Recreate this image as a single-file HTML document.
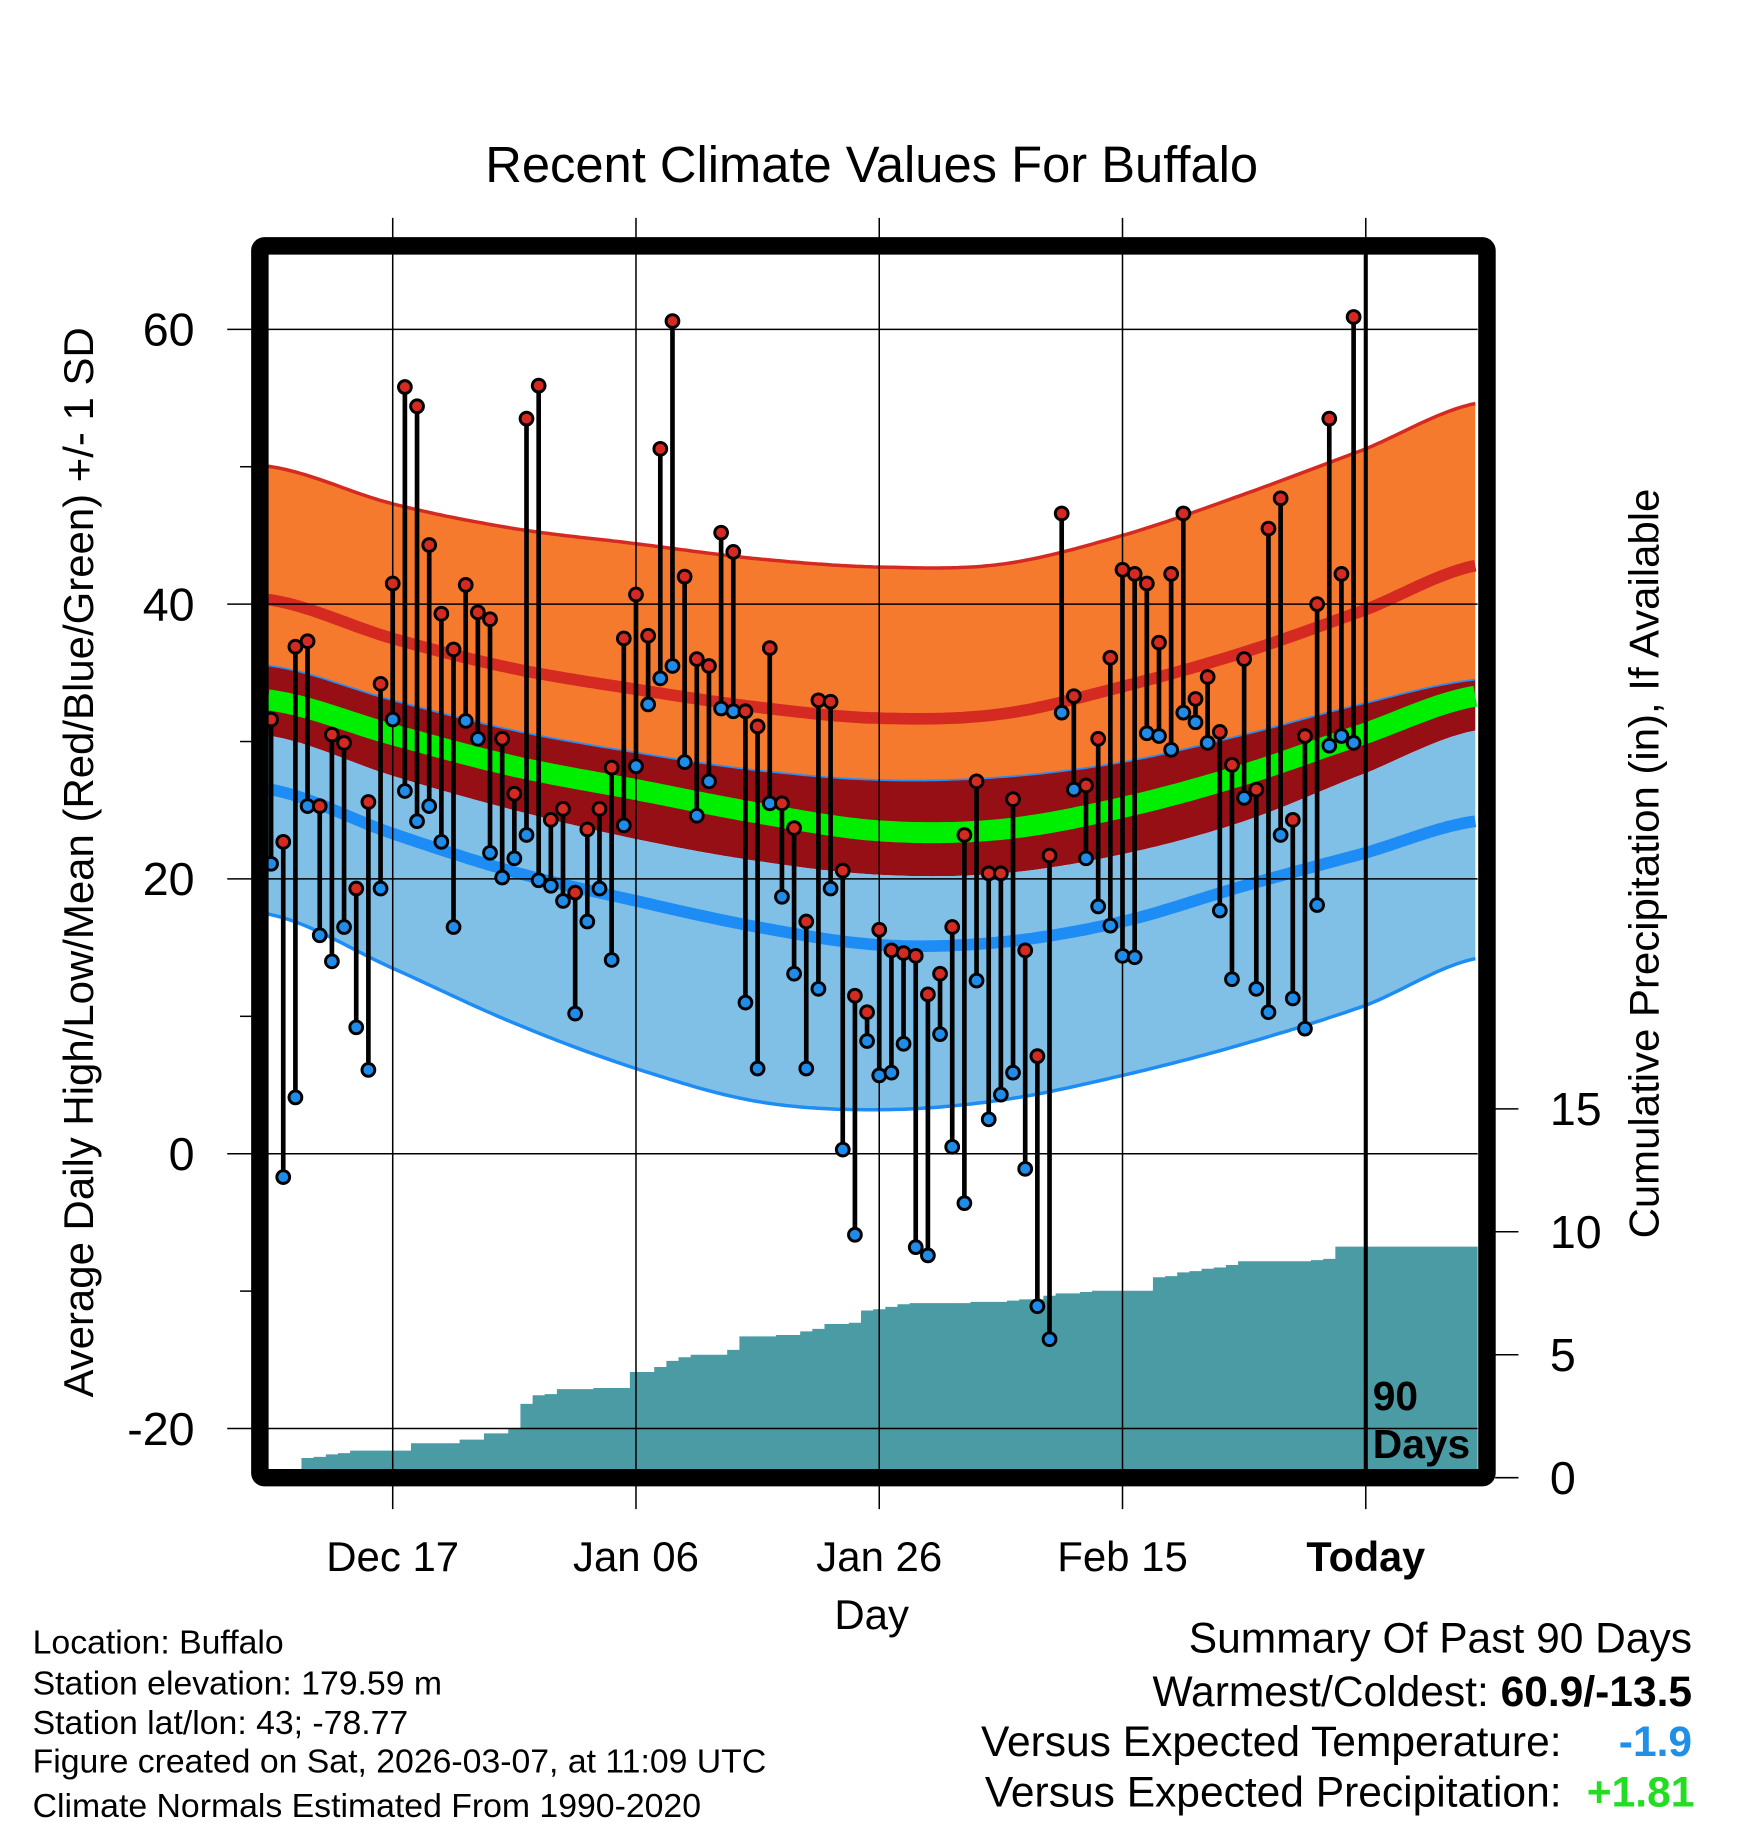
<!DOCTYPE html>
<html><head><meta charset="utf-8"><style>
html,body{margin:0;padding:0;background:#fff}
svg{display:block;font-family:"Liberation Sans",Arial,sans-serif}
</style></head><body>
<svg id="chart" width="1748" height="1828" viewBox="0 0 1500 1568.6" preserveAspectRatio="none" xmlns="http://www.w3.org/2000/svg">
<text x="748" y="156" font-size="43.5" text-anchor="middle">Recent Climate Values For Buffalo</text>
<g id="bands"></g>
<g id="precip"></g>
<g id="grid"></g>
<g id="series"></g>
<g id="frame"></g>
<text transform="translate(80,740) rotate(-90)" font-size="36" text-anchor="middle">Average Daily High/Low/Mean (Red/Blue/Green) +/- 1 SD</text>
<text transform="translate(1423,741) rotate(-90)" font-size="36" text-anchor="middle">Cumulative Precipitation (in), If Available</text>
<text x="748" y="1398" font-size="36" text-anchor="middle">Day</text>
<g font-size="29">
<text x="28" y="1419">Location: Buffalo</text>
<text x="28" y="1454">Station elevation: 179.59 m</text>
<text x="28" y="1488">Station lat/lon: 43; -78.77</text>
<text x="28" y="1521">Figure created on Sat, 2026-03-07, at 11:09 UTC</text>
<text x="28" y="1559">Climate Normals Estimated From 1990-2020</text>
</g>
<g font-size="36.5" text-anchor="end">
<text x="1452" y="1418">Summary Of Past 90 Days</text>
<text x="1452" y="1464">Warmest/Coldest: <tspan font-weight="bold">60.9/-13.5</tspan></text>
<text x="1340" y="1507">Versus Expected Temperature:</text>
<text x="1452" y="1507" font-weight="bold" fill="#1f8fe8">-1.9</text>
<text x="1340" y="1550">Versus Expected Precipitation:</text>
<text x="1454" y="1550" font-weight="bold" fill="#22dd22">+1.81</text>
</g>
</svg>
<script>
const normDays=[-90,-80,-70,-60,-50,-40,-30,-20,-10,0,9];
const highPlusSD=[50,47.3,45.5,44.4,43.3,42.7,42.9,45,48,51.3,54.6];
const normHigh=[40.3,37.5,35.3,33.8,32.5,31.7,32.0,34.0,36.5,39.6,42.8];
const highMinusSD=[35.5,33.0,30.8,29.2,27.9,27.2,27.4,28.5,30.5,32.8,34.5];
const normMean=[33,30.5,28.2,26.5,24.8,23.5,23.6,25.2,27.6,30.6,33.3];
const lowPlusSD=[30.4,27.5,25.0,22.9,21.3,20.3,20.4,21.8,24.2,27.7,30.8];
const normLow=[26.5,23.3,20.5,18.4,16.5,15.2,15.4,16.9,19.5,21.9,24.2];
const lowMinusSD=[17.4,13.5,9.5,6.2,3.8,3.2,3.9,5.7,8.0,10.8,14.2];
const highs=[31.6,22.7,36.9,37.3,25.3,30.5,29.9,19.3,25.6,34.2,41.5,55.8,54.4,44.3,39.3,36.7,41.4,39.4,38.9,30.2,26.2,53.5,55.9,24.3,25.1,19,23.6,25.1,28.1,37.5,40.7,37.7,51.3,60.6,42,36,35.5,45.2,43.8,32.2,31.1,36.8,25.5,23.7,16.9,33,32.9,20.6,11.5,10.3,16.3,14.8,14.6,14.4,11.6,13.1,16.5,23.2,27.1,20.4,20.4,25.8,14.8,7.1,21.7,46.6,33.3,26.8,30.2,36.1,42.5,42.2,41.5,37.2,42.2,46.6,33.1,34.7,30.7,28.3,36,26.5,45.5,47.7,24.3,30.4,40,53.5,42.2,60.9];
const lows=[21.1,-1.7,4.1,25.3,15.9,14,16.5,9.2,6.1,19.3,31.6,26.4,24.2,25.3,22.7,16.5,31.5,30.2,21.9,20.1,21.5,23.2,19.9,19.5,18.4,10.2,16.9,19.3,14.1,23.9,28.2,32.7,34.6,35.5,28.5,24.6,27.1,32.4,32.2,11,6.2,25.5,18.7,13.1,6.2,12,19.3,0.3,-5.9,8.2,5.7,5.9,8,-6.8,-7.4,8.7,0.5,-3.6,12.6,2.5,4.3,5.9,-1.1,-11.1,-13.5,32.1,26.5,21.5,18,16.6,14.4,14.3,30.6,30.4,29.4,32.1,31.4,29.9,17.7,12.7,25.9,12,10.3,23.2,11.3,9.1,18.1,29.7,30.4,29.9];
const precip=[0,0,0,0.8,0.85,0.95,1.0,1.1,1.1,1.1,1.1,1.1,1.4,1.4,1.4,1.4,1.55,1.55,1.8,1.8,2.0,3.0,3.35,3.4,3.6,3.6,3.6,3.65,3.65,3.65,4.3,4.3,4.5,4.75,4.9,5.0,5.0,5.0,5.2,5.75,5.75,5.75,5.8,5.8,5.95,6.05,6.25,6.25,6.3,6.8,6.85,6.95,7.05,7.1,7.1,7.1,7.1,7.1,7.15,7.15,7.15,7.2,7.25,7.25,7.4,7.5,7.5,7.55,7.6,7.6,7.6,7.6,7.6,8.15,8.2,8.35,8.4,8.5,8.55,8.65,8.8,8.8,8.8,8.8,8.8,8.8,8.85,8.9,9.4,9.4];
const xTickLabels=["Dec 17","Jan 06","Jan 26","Feb 15","Today"];
const xTickDays=[-80,-60,-40,-20,0];
const yTicks=[60,40,20,0,-20];
const yMinor=[50,30,10,-10];
const y2Ticks=[0,5,10,15];

const NS="http://www.w3.org/2000/svg";
const L=230,R=1268,T=215,B=1260;
const xDay=d=>1172+d*10.4375;
const yT=v=>990-v*11.79;
const yP=v=>1268-v*21.1;
function mk(tag,attrs,parent){const e=document.createElementNS(NS,tag);for(const k in attrs)e.setAttribute(k,attrs[k]);parent.appendChild(e);return e;}
const bands=document.getElementById('bands'),grid=document.getElementById('grid'),series=document.getElementById('series'),frame=document.getElementById('frame'),pg=document.getElementById('precip'),svg=document.getElementById('chart');
function crVal(arr,d){const n=normDays.length;let k=0;while(k<n-2&&d>normDays[k+1])k++;
const t=(d-normDays[k])/(normDays[k+1]-normDays[k]);
const p0=arr[Math.max(0,k-1)],p1=arr[k],p2=arr[k+1],p3=arr[Math.min(n-1,k+2)];
const t2=t*t,t3=t2*t;
return 0.5*((2*p1)+(-p0+p2)*t+(2*p0-5*p1+4*p2-p3)*t2+(-p0+3*p1-3*p2+p3)*t3);}
function curvePts(arr){const pts=[];for(let x=L;x<=R+0.1;x+=4){const d=(x-1172)/10.4375;pts.push([x,yT(crVal(arr,d))]);}return pts;}
function line(pts){return pts.map((p,i)=>(i?'L':'M')+p[0].toFixed(1)+','+p[1].toFixed(1)).join(' ');}
function band(a,b,fill,name){const pa=curvePts(a),pb=curvePts(b).reverse();const e=mk('path',{d:line(pa)+' '+line(pb).replace('M','L')+' Z',fill:fill},bands);

}
band(highPlusSD,highMinusSD,'#f57a2e','high-sd-band');
band(highMinusSD,lowPlusSD,'#960f14','mean-band');
band(lowPlusSD,lowMinusSD,'#80c0e6','low-sd-band');
function cl(arr,col,w,name){const e=mk('path',{d:line(curvePts(arr)),fill:'none',stroke:col,'stroke-width':w},bands);

}
cl(highPlusSD,'#d42a22',3,'high-plus-sd-line');
cl(normHigh,'#d42a22',10,'normal-high-line');
cl(highMinusSD,'#2a8ef0',1.5,'high-minus-sd-line');
cl(normMean,'#00ee00',18,'normal-mean-line');
cl(normLow,'#1e8cf5',10,'normal-low-line');
cl(lowMinusSD,'#1e8cf5',3,'low-minus-sd-line');

let d='M'+xDay(-90)+','+yP(0);
precip.forEach((v,i)=>{const xc=xDay(-90+i);d+=' L'+(xc-5.2).toFixed(1)+','+yP(v).toFixed(1)+' L'+(xc+5.2).toFixed(1)+','+yP(v).toFixed(1);});
d+=' L'+R+','+yP(precip[precip.length-1]).toFixed(1)+' L'+R+','+yP(0)+' Z';
const pa=mk('path',{d:d,fill:'#4a9ba4'},pg);



yTicks.forEach(v=>{const g=mk('line',{x1:195,x2:R,y1:yT(v),y2:yT(v),stroke:'#000','stroke-width':1.3},grid);


const t=mk('text',{x:167,y:yT(v)+14,'font-size':40,'text-anchor':'end'},svg);t.textContent=v;

});
yMinor.forEach(v=>{const g=mk('line',{x1:206,x2:218,y1:yT(v),y2:yT(v),stroke:'#000','stroke-width':1.3},grid);

});
xTickDays.forEach((dd,i)=>{const x=xDay(dd);const g=mk('line',{x1:x,x2:x,y1:187,y2:1295,stroke:'#000','stroke-width':1.3},grid);


const t=mk('text',{x:x,y:1348,'font-size':i==4?35.5:36,'text-anchor':'middle','font-weight':i==4?'bold':'normal'},svg);t.textContent=xTickLabels[i];

});
y2Ticks.forEach(v=>{const g=mk('line',{x1:1283,x2:1303,y1:yP(v),y2:yP(v),stroke:'#000','stroke-width':1.3},grid);


const t=mk('text',{x:1330,y:yP(v)+14,'font-size':40},svg);t.textContent=v;

});

highs.forEach((h,i)=>{const x=xDay(-90+i);const s=mk('line',{x1:x,x2:x,y1:yT(h),y2:yT(lows[i]),stroke:'#000','stroke-width':4},series);

});
highs.forEach((h,i)=>{const x=xDay(-90+i);
const a=mk('circle',{cx:x,cy:yT(h),r:5.5,fill:'#d42a22',stroke:'#000','stroke-width':2.5},series);


const b=mk('circle',{cx:x,cy:yT(lows[i]),r:5.5,fill:'#1e8ce8',stroke:'#000','stroke-width':2.5},series);

});

const tl=mk('line',{x1:xDay(0),x2:xDay(0),y1:T,y2:1268,stroke:'#000','stroke-width':3.5},frame);


const f=mk('rect',{x:223,y:211,width:1053,height:1057,rx:4,fill:'none',stroke:'#000','stroke-width':15},frame);


const t1=mk('text',{x:1178,y:1210,'font-size':35,'font-weight':'bold'},frame);t1.textContent='90';


const t2=mk('text',{x:1178,y:1251,'font-size':35,'font-weight':'bold'},frame);t2.textContent='Days';


</script>
</body></html>
